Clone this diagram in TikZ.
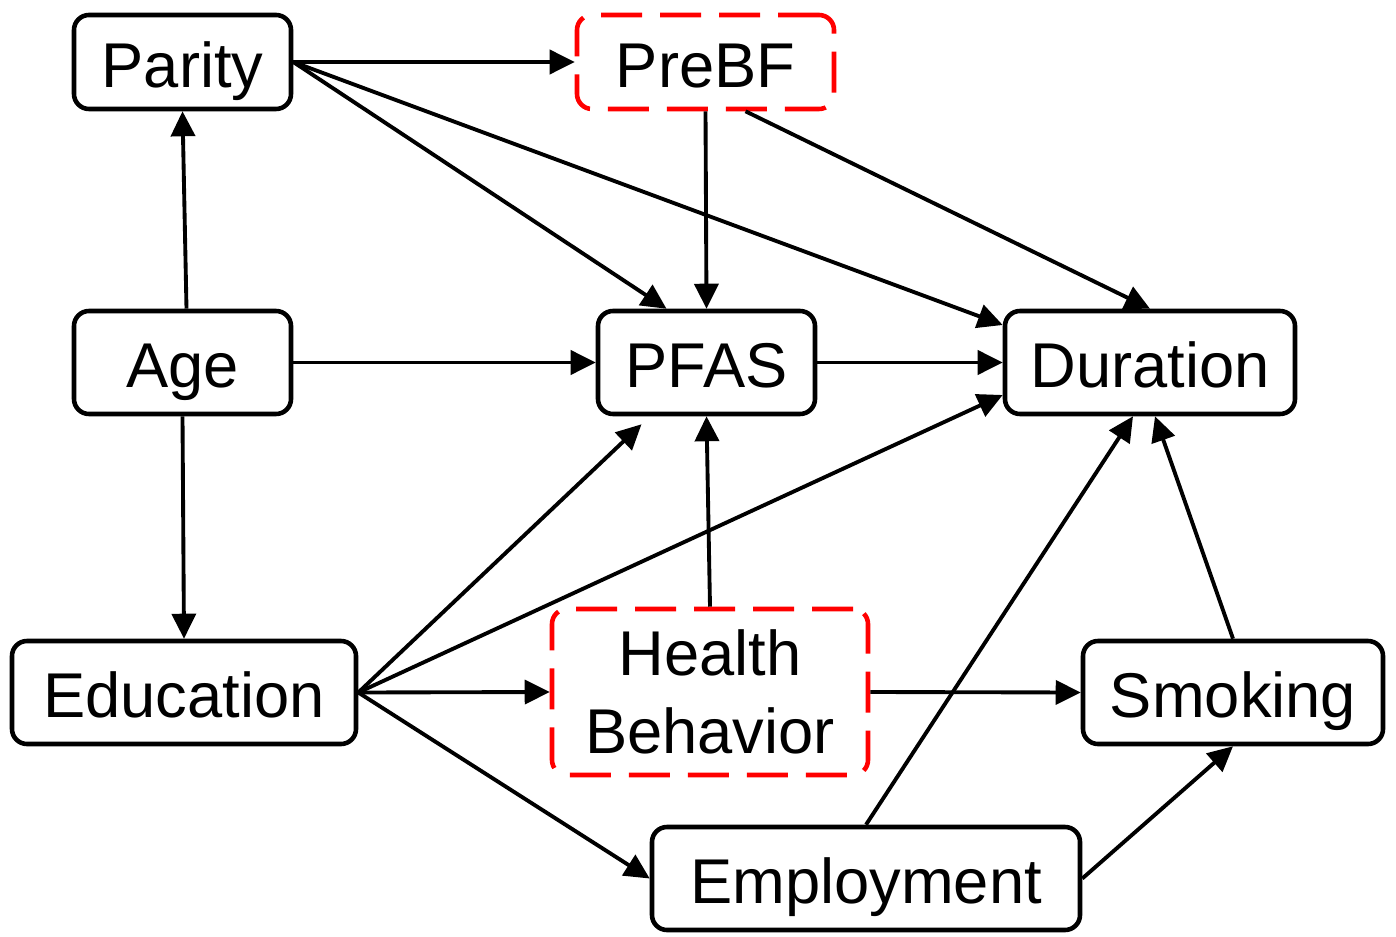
\documentclass[tikz,border=0pt]{standalone}
\usepackage{fontspec}
\setmainfont{Liberation Sans}
\usetikzlibrary{arrows.meta,positioning,calc}

\begin{document}
\begin{tikzpicture}[
  base/.style={draw, line width=2.6pt, rounded corners=0.3cm, align=center,
    font=\fontsize{36}{44}\selectfont, minimum height=2.06cm},
  box/.style={base, text height=36pt, text depth=7.2pt},
  redline/.style={draw=red, dash pattern=on 0.82cm off 0.36cm},
  arr/.style={line width=2.2pt, arrows={-Triangle[length=0.5cm,width=0.48cm]}}]
  \useasboundingbox (0,0) rectangle (27.92,-18.74);
  % variables
  \node[box, minimum width=4.34cm, minimum height=1.88cm] (parity) at (3.65,-1.24) {Parity};
  \node[box, redline, minimum width=5.14cm, minimum height=1.88cm] (prebf) at (14.11,-1.24) {PreBF};
  \node[box, minimum width=4.34cm] (age) at (3.65,-7.25) {Age};
  \node[box, minimum width=4.34cm] (pfas) at (14.13,-7.25) {PFAS};
  \node[box, minimum width=5.80cm] (duration) at (23.0,-7.25) {Duration};
  \node[box, minimum width=6.88cm] (education) at (3.68,-13.85) {Education};
  \node[base, redline, minimum width=6.32cm, minimum height=3.32cm] (health) at (14.2,-13.84) {Health\\Behavior};
  \node[box, minimum width=6.0cm] (smoking) at (24.66,-13.85) {Smoking};
  \node[box, minimum width=8.56cm] (employment) at (17.32,-17.57) {Employment};
  % arrows
  \draw[arr] (parity.east) -- (prebf.west);
  \draw[arr] (parity.east) -- ([xshift=-0.8cm]pfas.north);
  \draw[arr] (parity.east) -- ([yshift=0.75cm]duration.west);
  \draw[arr] (prebf.south) -- (pfas.north);
  \draw[arr] ([xshift=0.8cm]prebf.south) -- (duration.north);
  \draw[arr] ([xshift=0.08cm]age.north) -- (parity.south);
  \draw[arr] (age.east) -- (pfas.west);
  \draw[arr] (age.south) -- (education.north);
  \draw[arr] (pfas.east) -- (duration.west);
  \draw[arr] (education.east) -- ([xshift=-1.3cm,yshift=-0.16cm]pfas.south);
  \draw[arr] (education.east) -- ([yshift=-0.65cm]duration.west);
  \draw[arr] (education.east) -- (health.west);
  \draw[arr] (education.east) -- (employment.west);
  \draw[arr] (health.north) -- (pfas.south);
  \draw[arr] (health.east) -- (smoking.west);
  \draw[arr] (employment.north) -- ([xshift=-0.34cm]duration.south);
  \draw[arr] (employment.east) -- (smoking.south);
  \draw[arr] (smoking.north) -- ([xshift=0.1cm]duration.south);
\end{tikzpicture}
\end{document}
